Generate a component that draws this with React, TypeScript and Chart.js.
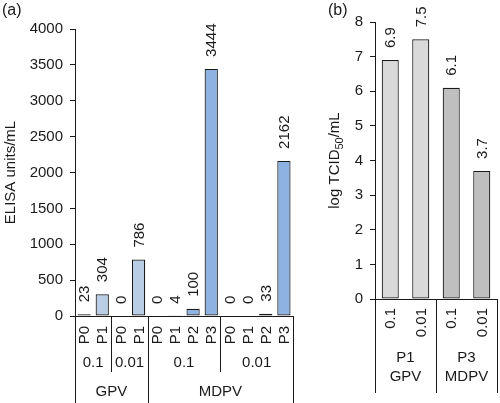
import React, { useEffect, useRef } from "react";
import { Chart, registerables } from "chart.js";

Chart.register(...registerables);

const FONT = '"Liberation Sans", Arial, sans-serif';
const INK = "#1a1a1a";

// ---------- Panel (a): ELISA ----------
const elisaCategories = ["P0", "P1", "P0", "P1", "P0", "P1", "P2", "P3", "P0", "P1", "P2", "P3"];
const elisaValues = [23, 304, 0, 786, 0, 4, 100, 3444, 0, 0, 33, 2162];
const elisaLevel2 = ["0.1", "0.01", "0.1", "0.01"];
const elisaLevel2Spans = [2, 2, 4, 4];
const elisaLevel1 = ["GPV", "MDPV"];
const elisaLevel1Spans = [4, 8];
const elisaGroupColors = ["#b9cde5", "#8db3e2"];
const elisaMax = 4000;
const elisaStep = 500;

// ---------- Panel (b): TCID50 ----------
const titerCategories = ["0.1", "0.01", "0.1", "0.01"];
const titerValues = [6.9, 7.5, 6.1, 3.7];
const titerLevel2 = ["P1", "P3"];
const titerLevel2Spans = [2, 2];
const titerLevel1 = ["GPV", "MDPV"];
const titerLevel1Spans = [2, 2];
const titerGroupColors = ["#d9d9d9", "#bfbfbf"];
const titerMax = 8;
const titerStep = 1;

function colorsFromSpans(spans: number[], palette: string[]) {
  const out: string[] = [];
  spans.forEach((s, g) => {
    for (let i = 0; i < s; i++) out.push(palette[g]);
  });
  return out;
}

type TitlePart = { t: string; sub?: boolean };

type PanelSpec = {
  tag: string;
  categories: string[];
  values: number[];
  level2: string[];
  level2Spans: number[];
  level1: string[];
  level1Spans: number[];
  colors: string[];
  max: number;
  step: number;
  barPct: number;
  padRight: number;
  padTop: number;
  xHeight: number;
  yWidth: number;
  title: TitlePart[];
  titleX: number;
  catTop: number;
  l2Y: number;
  l1Y: number;
  l2LineEnd: number;
  l1LineEnd: number;
  decimals: number;
};

function makePlugin(p: PanelSpec) {
  return {
    id: "hierAxis",
    afterDraw(chart: any) {
      const ctx: CanvasRenderingContext2D = chart.ctx;
      const area = chart.chartArea;
      const xs = chart.scales.x;
      const B = area.bottom;
      const n = p.categories.length;
      const edge = (i: number) => {
        if (i <= 0) return area.left;
        if (i >= n) return area.right;
        return (xs.getPixelForValue(i - 1) + xs.getPixelForValue(i)) / 2;
      };
      ctx.save();
      ctx.fillStyle = INK;
      ctx.strokeStyle = INK;
      ctx.lineWidth = 1;
      ctx.font = `15px ${FONT}`;

      // data labels
      const meta = chart.getDatasetMeta(0);
      meta.data.forEach((bar: any, i: number) => {
        ctx.save();
        ctx.translate(bar.x, bar.y - 12);
        ctx.rotate(-Math.PI / 2);
        ctx.textAlign = "left";
        ctx.textBaseline = "middle";
        ctx.fillText(p.values[i].toFixed(p.decimals), 0, 1);
        ctx.restore();
      });

      // category labels (rotated)
      p.categories.forEach((c, i) => {
        ctx.save();
        ctx.translate(xs.getPixelForValue(i), B + p.catTop);
        ctx.rotate(-Math.PI / 2);
        ctx.textAlign = "right";
        ctx.textBaseline = "middle";
        ctx.fillText(c, 0, 1);
        ctx.restore();
      });

      const l1Bounds: number[] = [0];
      p.level1Spans.forEach((s) => l1Bounds.push(l1Bounds[l1Bounds.length - 1] + s));
      const l2Bounds: number[] = [0];
      p.level2Spans.forEach((s) => l2Bounds.push(l2Bounds[l2Bounds.length - 1] + s));

      ctx.beginPath();
      l2Bounds.forEach((b) => {
        if (l1Bounds.indexOf(b) >= 0) return;
        const x = Math.round(edge(b)) + 0.5;
        ctx.moveTo(x, B);
        ctx.lineTo(x, B + p.l2LineEnd);
      });
      l1Bounds.forEach((b) => {
        const x = Math.round(edge(b)) + 0.5;
        ctx.moveTo(x, B);
        ctx.lineTo(x, B + p.l1LineEnd);
      });
      ctx.stroke();

      ctx.textAlign = "center";
      ctx.textBaseline = "middle";
      p.level2.forEach((t, g) => {
        const cx = (edge(l2Bounds[g]) + edge(l2Bounds[g + 1])) / 2;
        ctx.fillText(t, cx, B + p.l2Y);
      });
      p.level1.forEach((t, g) => {
        const cx = (edge(l1Bounds[g]) + edge(l1Bounds[g + 1])) / 2;
        ctx.fillText(t, cx, B + p.l1Y);
      });

      // y title with optional subscript
      ctx.save();
      ctx.translate(p.titleX, (area.top + area.bottom) / 2);
      ctx.rotate(-Math.PI / 2);
      ctx.textAlign = "left";
      ctx.textBaseline = "middle";
      const mainFont = `15px ${FONT}`;
      const subFont = `11px ${FONT}`;
      let total = 0;
      p.title.forEach((part) => {
        ctx.font = part.sub ? subFont : mainFont;
        total += ctx.measureText(part.t).width;
      });
      let cur = -total / 2;
      p.title.forEach((part) => {
        ctx.font = part.sub ? subFont : mainFont;
        ctx.fillText(part.t, cur, part.sub ? 5 : 0);
        cur += ctx.measureText(part.t).width;
      });
      ctx.restore();

      // panel tag
      ctx.font = `16px ${FONT}`;
      ctx.textAlign = "left";
      ctx.textBaseline = "top";
      ctx.fillText(p.tag, 2, 3);

      ctx.restore();
    },
  };
}

function buildChart(canvas: HTMLCanvasElement, p: PanelSpec) {
  return new Chart(canvas, {
    type: "bar",
    data: {
      labels: p.categories,
      datasets: [
        {
          data: p.values,
          backgroundColor: p.colors,
          borderColor: INK,
          borderWidth: 1.2,
          borderSkipped: false,
          barPercentage: p.barPct,
          categoryPercentage: 1,
        },
      ],
    },
    options: {
      responsive: false,
      animation: false,
      devicePixelRatio: 1,
      layout: { padding: { left: 0, right: p.padRight, top: p.padTop, bottom: 0 } },
      plugins: { legend: { display: false }, tooltip: { enabled: false } },
      scales: {
        x: {
          grid: { display: false },
          ticks: { display: false },
          border: { display: true, color: INK, width: 1 },
          afterFit: (s: any) => {
            s.height = p.xHeight;
          },
        },
        y: {
          min: 0,
          max: p.max,
          ticks: {
            stepSize: p.step,
            font: { family: FONT, size: 15 },
            color: INK,
            padding: 7,
            callback: (v: any) => String(v),
          },
          grid: { drawOnChartArea: false, drawTicks: true, tickLength: 5, color: INK },
          border: { display: true, color: INK, width: 1 },
          afterFit: (s: any) => {
            s.width = p.yWidth;
          },
        },
      },
    } as any,
    plugins: [makePlugin(p)],
  });
}

const LEFT_W = 326;
const RIGHT_W = 174;
const H = 403;

const panelA: PanelSpec = {
  tag: "(a)",
  categories: elisaCategories,
  values: elisaValues,
  level2: elisaLevel2,
  level2Spans: elisaLevel2Spans,
  level1: elisaLevel1,
  level1Spans: elisaLevel1Spans,
  colors: colorsFromSpans(elisaLevel1Spans, elisaGroupColors),
  max: elisaMax,
  step: elisaStep,
  barPct: 0.73,
  padRight: 33,
  padTop: 29,
  xHeight: 87,
  yWidth: 75,
  title: [{ t: "ELISA units/mL" }],
  titleX: 11,
  catTop: 10,
  l2Y: 47,
  l1Y: 76,
  l2LineEnd: 56,
  l1LineEnd: 87,
  decimals: 0,
};

const panelB: PanelSpec = {
  tag: "(b)",
  categories: titerCategories,
  values: titerValues,
  level2: titerLevel2,
  level2Spans: titerLevel2Spans,
  level1: titerLevel1,
  level1Spans: titerLevel1Spans,
  colors: colorsFromSpans(titerLevel1Spans, titerGroupColors),
  max: titerMax,
  step: titerStep,
  barPct: 0.56,
  padRight: 3,
  padTop: 22,
  xHeight: 104,
  yWidth: 49,
  title: [{ t: "log TCID" }, { t: "50", sub: true }, { t: "/mL" }],
  titleX: 9,
  catTop: 9,
  l2Y: 59,
  l1Y: 78,
  l2LineEnd: 94,
  l1LineEnd: 94,
  decimals: 1,
};

export default function App() {
  const leftRef = useRef<HTMLCanvasElement | null>(null);
  const rightRef = useRef<HTMLCanvasElement | null>(null);

  useEffect(() => {
    document.body.style.margin = "0";
    const a = leftRef.current ? buildChart(leftRef.current, panelA) : null;
    const b = rightRef.current ? buildChart(rightRef.current, panelB) : null;
    return () => {
      a && a.destroy();
      b && b.destroy();
    };
  }, []);

  return (
    <div style={{ position: "fixed", left: 0, top: 0, width: 500, height: H, background: "#fff" }}>
      <canvas
        ref={leftRef}
        width={LEFT_W}
        height={H}
        style={{ position: "absolute", left: 0, top: 0, width: LEFT_W, height: H }}
      />
      <canvas
        ref={rightRef}
        width={RIGHT_W}
        height={H}
        style={{ position: "absolute", left: LEFT_W, top: 0, width: RIGHT_W, height: H }}
      />
    </div>
  );
}
